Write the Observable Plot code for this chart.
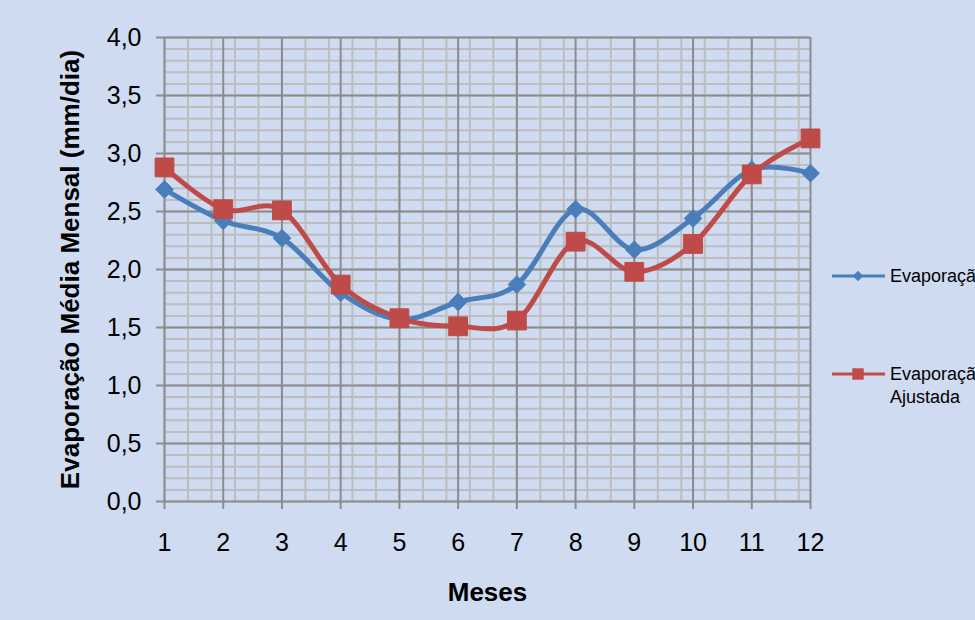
<!DOCTYPE html>
<html>
<head>
<meta charset="utf-8">
<script src="https://cdn.jsdelivr.net/npm/d3@7"></script>
<script src="https://cdn.jsdelivr.net/npm/@observablehq/plot@0.6"></script>
<style>
  html, body { margin: 0; padding: 0; background: #cfdbf1; overflow: hidden; }
  #chart { width: 975px; height: 620px; }
</style>
</head>
<body>
<div id="chart"></div>
<script>
const months = [1, 2, 3, 4, 5, 6, 7, 8, 9, 10, 11, 12];
const evaporacao = [2.69, 2.42, 2.27, 1.80, 1.57, 1.72, 1.87, 2.52, 2.17, 2.44, 2.86, 2.83];
const evaporacaoAjustada = [2.88, 2.52, 2.51, 1.87, 1.58, 1.51, 1.56, 2.24, 1.98, 2.22, 2.82, 3.13];
const yTicks = [0, 0.5, 1, 1.5, 2, 2.5, 3, 3.5, 4];
const xTicks = months;
const seriesNames = ["Evaporação", "Evaporação Ajustada"];
const xTitle = "Meses";
const yTitle = "Evaporação Média Mensal (mm/dia)";

const blue = "#4a7ebb";
const red = "#be4b48";
const majorGrid = "#8c8c8c";
const minorGrid = "#bdbdbd";

const minorX = d3.range(1, 12.001, 0.4);
const minorY = d3.range(0, 4.001, 0.1);

const blueData = months.map((m, i) => ({m, v: evaporacao[i]}));
const redData = months.map((m, i) => ({m, v: evaporacaoAjustada[i]}));

const fmt = d => d.toFixed(1).replace(".", ",");

const plot = Plot.plot({
  width: 975,
  height: 620,
  marginLeft: 164,
  marginRight: 165,
  marginTop: 37,
  marginBottom: 119,
  x: {domain: [1, 12]},
  y: {domain: [0, 4]},
  style: {background: "#cfdbf1", fontFamily: "'Liberation Sans', Arial, sans-serif", color: "black"},
  marks: [
    Plot.ruleX(minorX, {y1: 0, y2: 4, stroke: minorGrid, strokeWidth: 2}),
    Plot.ruleY(minorY, {x1: 1, x2: 12, stroke: minorGrid, strokeWidth: 2}),
    Plot.ruleX(xTicks, {y1: 0, y2: 4, stroke: majorGrid, strokeWidth: 2}),
    Plot.ruleY(yTicks, {x1: 1, x2: 12, stroke: majorGrid, strokeWidth: 2}),
    Plot.axisX(xTicks, {tickSize: 8, tickPadding: 24, fontSize: 25, stroke: majorGrid, strokeWidth: 2, fill: "black", label: null, tickFormat: d => String(d)}),
    Plot.axisY(yTicks, {tickSize: 8, tickPadding: 15, fontSize: 25, stroke: majorGrid, strokeWidth: 2, fill: "black", label: null, tickFormat: fmt}),
    Plot.line(blueData, {x: "m", y: "v", stroke: blue, strokeWidth: 5, curve: "cardinal", tension: 0}),
    Plot.dot(blueData, {x: "m", y: "v", symbol: "diamond2", r: 8, fill: blue, stroke: blue, strokeWidth: 1}),
    Plot.line(redData, {x: "m", y: "v", stroke: red, strokeWidth: 5, curve: "cardinal", tension: 0}),
    Plot.dot(redData, {x: "m", y: "v", symbol: "square", r: 10.6, fill: red, stroke: red, strokeWidth: 1}),
    Plot.text([xTitle], {frameAnchor: "bottom", lineAnchor: "middle", dy: 91, fontSize: 26, fontWeight: "bold", fill: "black"}),
    Plot.text([yTitle], {frameAnchor: "left", dx: -94, rotate: -90, textAnchor: "middle", fontSize: 26, fontWeight: "bold", fill: "black"})
  ]
});

document.getElementById("chart").appendChild(plot);

// Legend (layout only)
const svg = d3.select(plot);
const leg = svg.append("g")
  .attr("font-family", "'Liberation Sans', Arial, sans-serif")
  .attr("font-size", 18)
  .attr("fill", "black")
  .attr("text-anchor", "start");
const legendItems = [
  {y: 276, color: blue, symbol: d3.symbolDiamond2, size: 70, lines: [seriesNames[0]]},
  {y: 374, color: red, symbol: d3.symbolSquare, size: 130, lines: ["Evaporação", "Ajustada"]}
];
legendItems.forEach(it => {
  leg.append("line").attr("x1", 832).attr("x2", 885).attr("y1", it.y).attr("y2", it.y)
    .attr("stroke", it.color).attr("stroke-width", 3);
  leg.append("path").attr("d", d3.symbol(it.symbol, it.size)()).attr("transform", `translate(858,${it.y})`)
    .attr("fill", it.color);
  it.lines.forEach((t, j) => {
    leg.append("text").attr("x", 890).attr("y", it.y + j * 23).attr("dy", "0.35em")
      .attr("text-anchor", "start").text(t);
  });
});
</script>
</body>
</html>
